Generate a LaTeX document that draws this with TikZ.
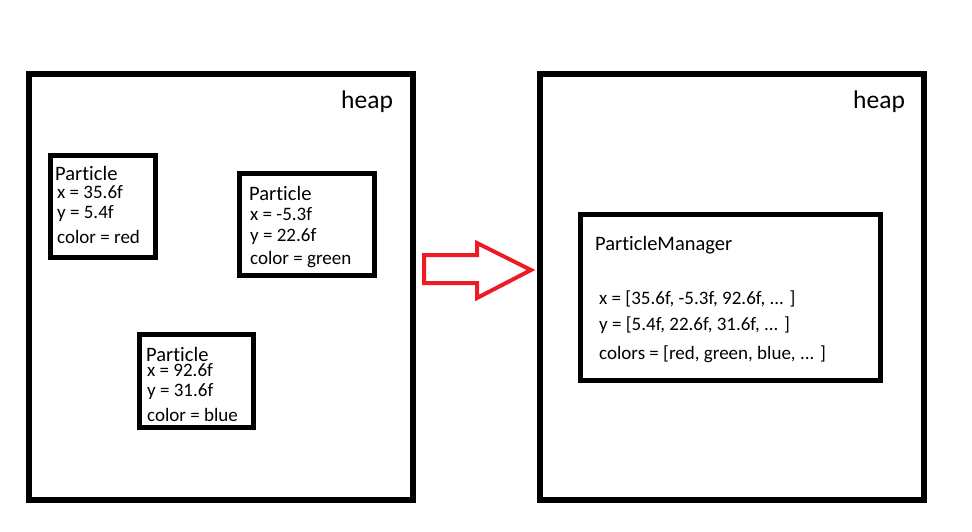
\documentclass[tikz,border=0pt]{standalone}
\usepackage{fontspec}
\setmainfont{Carlito}[Ligatures=NoCommon]
\usepackage{xcolor}
\usetikzlibrary{positioning}
\definecolor{paintred}{HTML}{ED1C24}

\begin{document}
\begin{tikzpicture}[x=1pt, y=-1pt,
            heapbox/.style={rectangle, draw, line width=6pt, minimum width=384pt, minimum height=426pt, inner sep=0pt},
            objbox/.style={rectangle, draw, line width=5pt, inner sep=0pt},
            heaplabel/.style={anchor=west, inner sep=0pt, font=\fontsize{25.5}{30}\selectfont},
            title/.style={anchor=west, inner sep=0pt, font=\fontsize{20.5}{24}\selectfont},
            field/.style={anchor=west, inner sep=0pt, font=\fontsize{19}{22}\selectfont}]

            \useasboundingbox (0,0) rectangle (972,532);

            % Heaps
            \node[heapbox] (heapL) at (221,287) {};
            \node[heapbox] (heapR) at (732,287) {};
            \node[heaplabel] (heapLabelL) at (341,102) {heap};
            \node[heaplabel] (heapLabelR) at (853,102) {heap};

            % Particle objects, left heap
            \node[objbox, minimum width=105pt, minimum height=102pt] (p1) at (103,206.5) {};
            \node[title] (p1Name) at (55,173) {Particle};
            \node[field] (p1x) at (57,192) {x = 35.6f};
            \node[field] (p1y) at (57,214) {y = 5.4f};
            \node[field] (p1c) at (57,237) {color = red};

            \node[objbox, minimum width=135pt, minimum height=102pt] (p2) at (307,224.5) {};
            \node[title] (p2Name) at (249,193) {Particle};
            \node[field] (p2x) at (250,214) {x = -5.3f};
            \node[field] (p2y) at (250,237) {y = 22.6f};
            \node[field] (p2c) at (250,260) {color = green};

            \node[objbox, minimum width=114pt, minimum height=93pt] (p3) at (196.5,381) {};
            \node[title] (p3Name) at (146,354) {Particle};
            \node[field] (p3x) at (147,370) {x = 92.6f};
            \node[field] (p3y) at (147,392) {y = 31.6f};
            \node[field] (p3c) at (147,415) {color = blue};

            % Transform arrow
            \draw[paintred, line width=4pt, line join=miter]
                (424,255) -- (477,255) -- (477,243) -- (531,270) -- (477,298) -- (477,283) -- (424,283) -- cycle;

            % Manager, right heap
            \node[objbox, minimum width=300pt, minimum height=166pt] (manager) at (730.5,297.5) {};
            \node[title] (managerName) at (595,245) {ParticleManager};
            \node[field] (mx) at (599,299) {x = [35.6f, -5.3f, 92.6f, ... ]};
            \node[field] (my) at (599,325) {y = [5.4f, 22.6f, 31.6f, ... ]};
            \node[field] (mc) at (599,354) {colors = [red, green, blue, ... ]};
        \end{tikzpicture}
\end{document}
